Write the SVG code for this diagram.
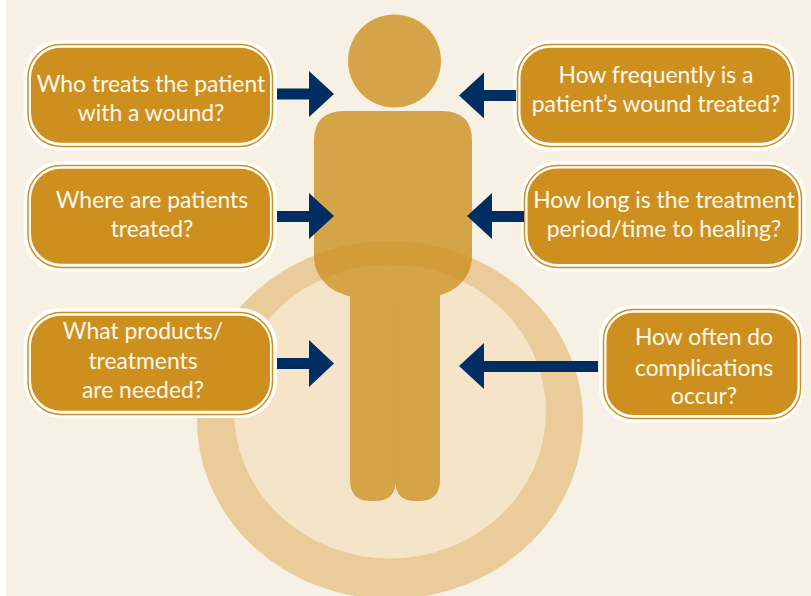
<svg xmlns="http://www.w3.org/2000/svg" width="811" height="596" viewBox="0 0 811 596">
<style>
.halo{fill:#fff;}
.edge{fill:#fff;stroke:#cd901f;stroke-width:1.5;}
.fill{fill:#cd901f;}
.lbl{font-family:"Lato","Open Sans",sans-serif;font-size:22.9px;fill:#fdf8ee;text-anchor:middle;}
.arr{fill:#002e62;}
.fig{fill:#d6a448;}
</style>
<defs>
<clipPath id="bodyclip"><path d="M344 111H442Q472 111 472 141V255C472 280 452 298 420 298H366C334 298 314 280 314 255V141Q314 111 344 111Z"/></clipPath>
</defs>
<rect width="811" height="596" fill="#fff"/>
<rect x="6" y="0" width="805" height="596" fill="#f7f0e4"/>
<g id="base">
<ellipse cx="390" cy="420" rx="193" ry="179" fill="#eacc9a"/>
<ellipse cx="390" cy="411.500" rx="156" ry="147" fill="#f5e4c8"/>
</g>
<g id="person">
<circle class="fig" cx="394.500" cy="61" r="46.500"/>
<path class="fig" d="M350 290H440V480Q440 501 419 501H415Q397 501 395.500 484Q394 501 375 501H371Q350 501 350 480Z"/>
<path d="M344 111H442Q472 111 472 141V255C472 280 452 298 420 298H366C334 298 314 280 314 255V141Q314 111 344 111Z" class="fig"/>
<path d="M197 420a193 179 0 1 1 386 0a193 179 0 1 1 -386 0ZM234 411.500a156 147 0 1 0 312 0a156 147 0 1 0 -312 0Z" fill="#d29c38" clip-path="url(#bodyclip)"/>
<path d="M395.500 298V484" stroke="#d09a3c" stroke-width=".4" stroke-opacity=".6" fill="none"/>
</g>
<g id="n1"><rect class="halo" x="23.500" y="40" width="253.500" height="111" rx="37"/><rect class="edge" x="28" y="44.500" width="244.500" height="102" rx="33"/><rect class="fill" x="31" y="47.700" width="239" height="95" rx="30"/><text class="lbl" x="151" y="92">Who treats the patient</text><text class="lbl" x="151" y="121">with a wound?</text></g>
<g id="n2"><rect class="halo" x="23.500" y="161" width="253.500" height="111" rx="37"/><rect class="edge" x="28" y="165.500" width="244.500" height="102" rx="33"/><rect class="fill" x="31" y="168.700" width="239" height="95" rx="30"/><text class="lbl" x="152" y="208">Where are patients</text><text class="lbl" x="152" y="237">treated?</text></g>
<g id="n3"><rect class="halo" x="23.500" y="308" width="253.500" height="110" rx="37"/><rect class="edge" x="28" y="312.500" width="244.500" height="102" rx="33"/><rect class="fill" x="31" y="315.700" width="239" height="95" rx="30"/><text class="lbl" x="143" y="339">What products/</text><text class="lbl" x="143" y="369">treatments</text><text class="lbl" x="143" y="398">are needed?</text></g>
<g id="n4"><rect class="halo" x="513" y="40" width="285" height="111" rx="37"/><rect class="edge" x="517.500" y="44.500" width="276" height="102" rx="33"/><rect class="fill" x="520.500" y="47.700" width="270" height="95" rx="30"/><text class="lbl" x="656" y="83">How frequently is a</text><text class="lbl" x="656" y="112">patient’s wound treated?</text></g>
<g id="n5"><rect class="halo" x="521" y="161" width="285" height="111" rx="37"/><rect class="edge" x="524.500" y="165.500" width="277" height="102" rx="33"/><rect class="fill" x="527.500" y="168.500" width="271" height="95.500" rx="30"/><text class="lbl" x="664" y="208">How long is the treatment</text><text class="lbl" x="664" y="237">period/time to healing?</text></g>
<g id="n6"><rect class="halo" x="599" y="305" width="205" height="118" rx="34"/><rect class="edge" x="603.500" y="309.500" width="197" height="109" rx="30"/><rect class="fill" x="606.500" y="312.700" width="191" height="102.300" rx="27"/><text class="lbl" x="704" y="345">How often do</text><text class="lbl" x="704" y="376">complications</text><text class="lbl" x="704" y="404">occur?</text></g>
<g id="connectors">
<path class="arr" d="M277 88.500H309V71L334 94L309 117V99.500H277Z"/>
<path class="arr" d="M277 211H309V193L334 216L309 239V222H277Z"/>
<path class="arr" d="M277 358H309V340L334 363.500L309 387V369H277Z"/>
<path class="arr" d="M516 90H484V72.500L459 95.500L484 118.500V101H516Z"/>
<path class="arr" d="M524 211H492V193L467 216L492 239V222H524Z"/>
<path class="arr" d="M598 361H484V343L459 366L484 389V372H598Z"/>
</g>
</svg>
